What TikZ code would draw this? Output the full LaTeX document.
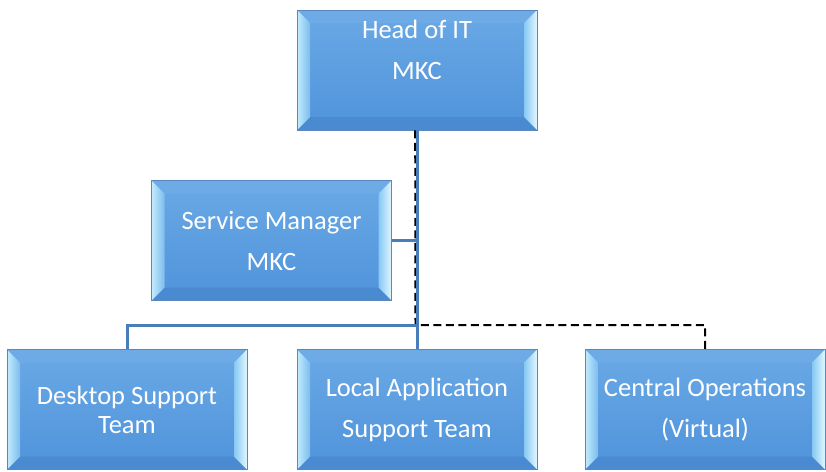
\documentclass[tikz,border=0pt]{standalone}
\usepackage{fontspec}
\setmainfont{Carlito}
\definecolor{facetop}{HTML}{6AA9E6}
\definecolor{facebot}{HTML}{4F93DA}
\definecolor{bevtop}{HTML}{6EAAE5}
\definecolor{bevbot}{HTML}{4A8AD1}
\definecolor{bevlout}{HTML}{C4ECFC}
\definecolor{bevlin}{HTML}{7CBCEE}
\definecolor{bevrout}{HTML}{E2F7FF}
\definecolor{bevrin}{HTML}{86C8F3}
\definecolor{bordercol}{HTML}{5A88BE}
\definecolor{linkcol}{HTML}{4A7EBB}
\tikzset{
  bevbox/.style={minimum width=240pt, minimum height=120pt, inner sep=0pt,
    draw=bordercol, line width=0.8pt, text=white, align=center,
    font=\fontsize{26.5}{29}\selectfont,
    path picture={
      \coordinate (pA) at (path picture bounding box.south west);
      \coordinate (pB) at (path picture bounding box.north east);
      \coordinate (pC) at (path picture bounding box.north west);
      \coordinate (pD) at (path picture bounding box.south east);
      \shade[top color=facetop, bottom color=facebot] (pA) rectangle (pB);
      \fill[bevtop] (pC) -- (pB) -- ([shift={(-13pt,-13pt)}]pB) -- ([shift={(13pt,-13pt)}]pC) -- cycle;
      \fill[bevbot] (pA) -- (pD) -- ([shift={(-13pt,13pt)}]pD) -- ([shift={(13pt,13pt)}]pA) -- cycle;
      \shade[left color=bevlout, right color=bevlin] (pC) -- (pA) -- ([shift={(13pt,13pt)}]pA) -- ([shift={(13pt,-13pt)}]pC) -- cycle;
      \shade[left color=bevrin, right color=bevrout] (pB) -- (pD) -- ([shift={(-13pt,13pt)}]pD) -- ([shift={(-13pt,-13pt)}]pB) -- cycle;
    }},
  boxtext/.style={text=white, align=center, inner sep=0pt, font=\fontsize{26.5}{29}\selectfont},
  link/.style={draw=linkcol, line width=3pt},
  dashlink/.style={draw=black, line width=2pt, dash pattern=on 8pt off 4.5pt}
}
\begin{document}
\begin{tikzpicture}[x=1pt,y=-1pt]
\useasboundingbox (0,0) rectangle (826,471);
% boxes
\node[bevbox] (head) at (417,70) {};
\node[boxtext] (headtxt) at (417,50) {Head of IT\\[12pt]MKC};
\node[bevbox] (sm) at (271.5,240.5) {Service Manager\\[12pt]MKC};
\node[bevbox] (dt) at (127,409.5) {Desktop Support\\Team};
\node[bevbox] (la) at (417,409.5) {Local Application\\[12pt]Support Team};
\node[bevbox] (co) at (705,409.5) {Central Operations\\[12pt](Virtual)};
% connectors
\coordinate (jd) at (415.5,325);
\coordinate (js) at (417,325);
\draw[dashlink] ([xshift=-1.8pt]head.south) -- (jd) -| (co.north);
\draw[link] (head.south) -- (la.north);
\draw[link] (sm.east) -- (sm.east -| head.south);
\draw[link] (dt.north) |- (js);
\end{tikzpicture}
\end{document}
